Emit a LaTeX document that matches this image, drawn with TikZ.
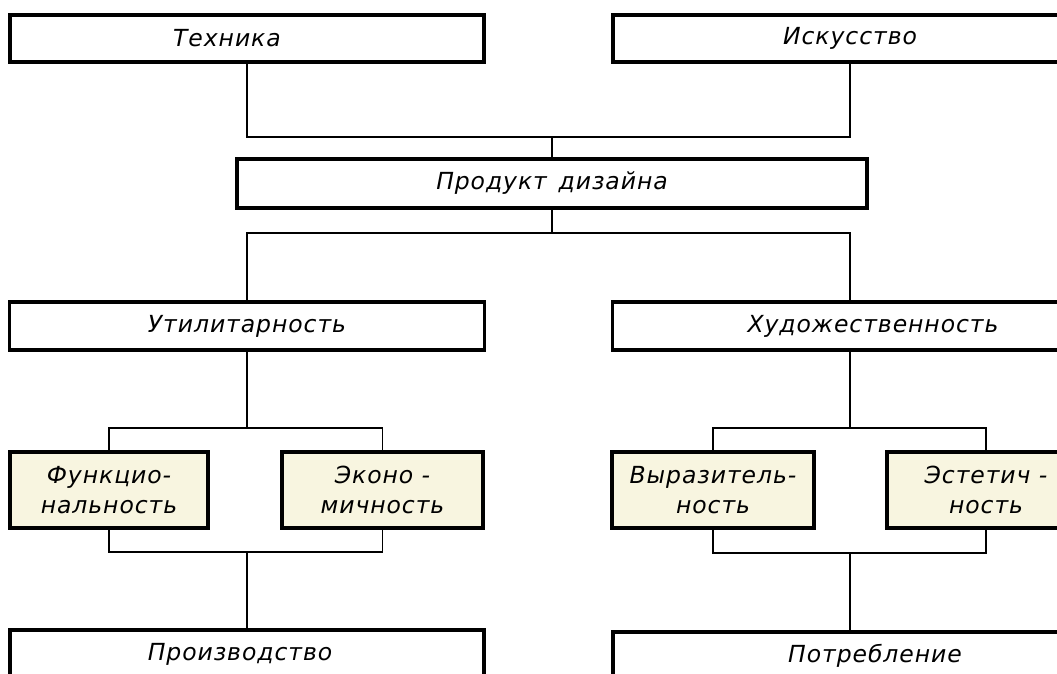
\documentclass[tikz,border=0pt]{standalone}
\usepackage{fontspec}
\setmainfont{DejaVu Sans}[LetterSpace=4]
\definecolor{cream}{HTML}{F8F5E0}
\begin{document}
\begin{tikzpicture}[x=1pt,y=-1pt,
  box/.style={draw=black,line width=3.2pt,rectangle,inner sep=0pt,
    font=\fontsize{23.5}{30}\selectfont\itshape,align=center},
  wide/.style={box,minimum width=474pt,minimum height=47pt},
  small/.style={box,fill=cream,minimum width=200pt,minimum height=76pt},
  conn/.style={draw=black,line width=1.8pt}]
\useasboundingbox (0,0) rectangle (1057,673);
\clip (0,0) rectangle (1057,673);
\fill[white] (0,0) rectangle (1057,673);
% nodes
\node[wide] (tech) at (247,38.5) {Техника\hspace*{40pt}};
\node[wide] (isk) at (850,38.5) {Искусство};
\node[box,minimum width=630pt,minimum height=49pt] (prod) at (552,183.5) {Продукт\enspace дизайна};
\node[wide,minimum width=475pt,minimum height=48pt] (util) at (247,326) {Утилитарность};
\node[wide,minimum width=475pt,minimum height=48pt] (hud) at (850,326) {\hspace*{46pt}Художественность};
\node[small,minimum width=198pt] (func) at (109,490) {Функцио-\\нальность};
\node[small,minimum width=201pt] (econ) at (382.5,490) {Эконо -\\мичность};
\node[small,minimum width=202pt] (vyr) at (713,490) {Выразитель-\\ность};
\node[small,minimum width=198pt] (est) at (986,490) {Эстетич -\\ность};
\node[wide,minimum width=474pt,minimum height=48pt] (proizv) at (247,654) {Производство\hspace*{14pt}};
\node[wide,minimum width=474pt,minimum height=48pt] (potr) at (850,656) {\hspace*{50pt}Потребление};
% junctions
\coordinate (j1) at (552,137);
\coordinate (j2) at (552,233);
\coordinate (j3) at (247,428);
\coordinate (j4) at (247,552);
\coordinate (j5) at (850,428);
\coordinate (j6) at (850,553);
% connectors
\draw[conn] (tech.south) |- (j1) -| (isk.south);
\draw[conn] (j1) -- (prod.north);
\draw[conn] (prod.south) -- (j2);
\draw[conn] (util.north) |- (j2) -| (hud.north);
\draw[conn] (util.south) -- (j3);
\draw[conn] (func.north) |- (j3) -| (econ.north);
\draw[conn] (func.south) |- (j4) -| (econ.south);
\draw[conn] (j4) -- (proizv.north);
\draw[conn] (hud.south) -- (j5);
\draw[conn] (vyr.north) |- (j5) -| (est.north);
\draw[conn] (vyr.south) |- (j6) -| (est.south);
\draw[conn] (j6) -- (potr.north);
\end{tikzpicture}
\end{document}
